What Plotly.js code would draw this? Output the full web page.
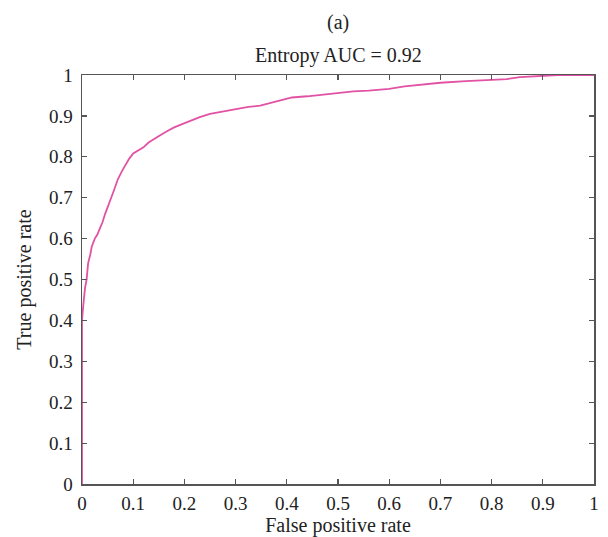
<!DOCTYPE html>
<html>
<head>
<meta charset="utf-8">
<script src="https://cdn.plot.ly/plotly-3.0.1.min.js"></script>
<style>html,body{margin:0;padding:0;background:#fff;}</style>
</head>
<body>
<div id="chart" style="width:608px;height:537px;"></div>
<script>
const fpr = [0,0,0.002,0.004,0.006,0.009,0.012,0.016,0.019,0.025,0.03,0.035,0.04,0.045,0.05,0.057,0.063,0.07,0.078,0.085,0.092,0.1,0.11,0.12,0.13,0.14,0.152,0.165,0.18,0.198,0.215,0.23,0.25,0.27,0.29,0.302,0.325,0.348,0.37,0.39,0.41,0.44,0.47,0.5,0.53,0.56,0.6,0.63,0.66,0.7,0.75,0.8,0.83,0.855,0.88,0.9,0.93,0.96,1];
const tpr = [0,0.4,0.43,0.46,0.48,0.5,0.54,0.56,0.58,0.6,0.61,0.625,0.64,0.66,0.675,0.70,0.72,0.745,0.765,0.78,0.795,0.808,0.815,0.823,0.835,0.842,0.852,0.862,0.872,0.881,0.89,0.897,0.905,0.91,0.915,0.917,0.922,0.925,0.932,0.94,0.945,0.948,0.952,0.957,0.96,0.962,0.966,0.972,0.976,0.981,0.985,0.988,0.99,0.995,0.997,0.999,1,1,1];
const tickVals = [0,0.1,0.2,0.3,0.4,0.5,0.6,0.7,0.8,0.9,1];
const tickText = ["0","0.1","0.2","0.3","0.4","0.5","0.6","0.7","0.8","0.9","1"];
const panelLabel = "(a)";
const chartTitle = "Entropy AUC = 0.92";
const xTitle = "False positive rate";
const yTitle = "True positive rate";

const tickFont = {family: "Liberation Serif, DejaVu Serif, serif", size: 19, color: "#222"};
const titleFont = {family: "Liberation Serif, DejaVu Serif, serif", size: 20, color: "#222"};
const axisCommon = {
  range: [0, 1],
  tickvals: tickVals,
  ticktext: tickText,
  ticks: "inside",
  ticklen: 5,
  tickwidth: 1.2,
  tickcolor: "#555",
  showline: true,
  linecolor: "#555",
  linewidth: 1.5,
  mirror: "ticks",
  showgrid: false,
  zeroline: false,
  tickfont: tickFont,
  fixedrange: true
};

Plotly.newPlot("chart", [{
  x: fpr, y: tpr, type: "scatter", mode: "lines",
  line: {color: "rgb(226,82,164)", width: 1.8},
  hoverinfo: "skip"
}], {
  width: 608, height: 537,
  margin: {l: 82, r: 14, t: 75, b: 53},
  paper_bgcolor: "#fff", plot_bgcolor: "#fff",
  showlegend: false,
  font: tickFont,
  xaxis: Object.assign({}, axisCommon, {ticklabelstandoff: 2, title: {text: xTitle, font: titleFont, standoff: 4}}),
  yaxis: Object.assign({}, axisCommon, {ticklabelstandoff: 4, title: {text: yTitle, font: titleFont, standoff: 12}}),
  annotations: [
    {text: panelLabel, xref: "paper", yref: "paper", x: 0.5, y: 1, yshift: 53, showarrow: false, font: titleFont, yanchor: "middle"},
    {text: chartTitle, xref: "paper", yref: "paper", x: 0.5, y: 1, yshift: 20, showarrow: false, font: titleFont, yanchor: "middle"}
  ]
}, {displayModeBar: false, staticPlot: true});
</script>
</body>
</html>
